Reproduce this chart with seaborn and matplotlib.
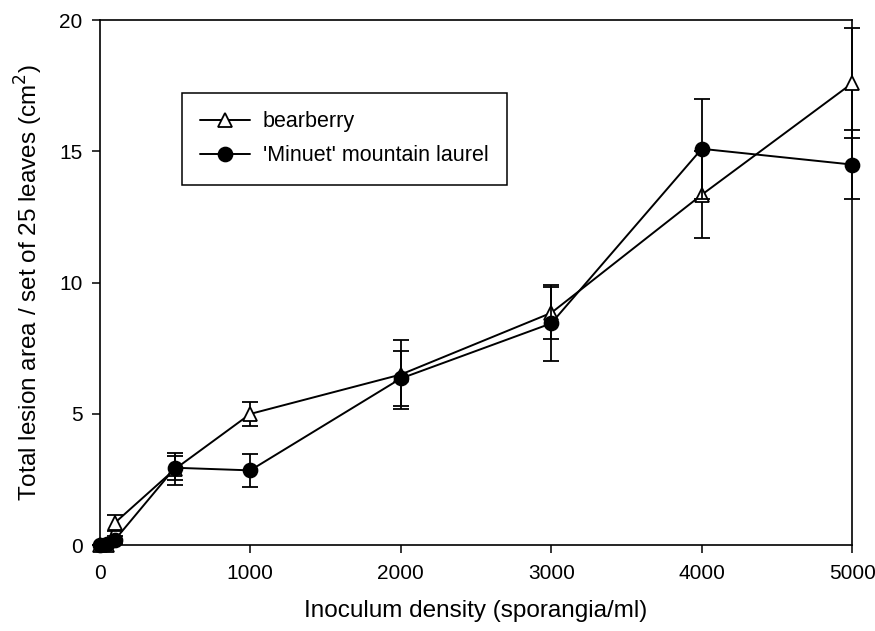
"""
Lesion area vs inoculum density, bearberry vs 'Minuet' mountain laurel
"""

import matplotlib
matplotlib.use("Agg")
import matplotlib.pyplot as plt
import seaborn as sns
import pandas as pd
import numpy as np

# Data
density = [0, 50, 100, 500, 1000, 2000, 3000, 4000, 5000]
bearberry = [0.0, 0.02, 0.85, 2.9, 5.0, 6.5, 8.85, 13.35, 17.6]
bearberry_err = [0.0, 0.0, 0.3, 0.6, 0.45, 1.3, 1.0, 1.65, 2.1]
laurel = [0.0, 0.05, 0.2, 2.95, 2.85, 6.35, 8.45, 15.1, 14.5]
laurel_err = [0.0, 0.05, 0.15, 0.45, 0.63, 1.05, 1.45, 1.9, 1.3]

series_names = ["bearberry", "'Minuet' mountain laurel"]

sns.set_style("ticks")
plt.rcParams['font.family'] = ['Liberation Sans', 'DejaVu Sans']
plt.rcParams['font.size'] = 15
plt.rcParams['text.color'] = 'black'
plt.rcParams['axes.labelcolor'] = 'black'

df = pd.DataFrame({
    'density': density * 2,
    'area': bearberry + laurel,
    'err': bearberry_err + laurel_err,
    'plant': [series_names[0]] * len(density) + [series_names[1]] * len(density),
})

fig = plt.figure(figsize=(8.75, 6.31), dpi=100)
ax = fig.add_axes([0.114, 0.136, 0.86, 0.832])

styles = {
    series_names[0]: dict(marker='^', mfc='white', ms=10),
    series_names[1]: dict(marker='o', mfc='black', ms=10),
}

for i, name in enumerate(series_names):
    sub = df[df['plant'] == name]
    ax.errorbar(sub['density'], sub['area'], yerr=sub['err'], fmt='none',
                ecolor='black', elinewidth=1.3, capsize=6, capthick=1.3,
                zorder=2 + i, clip_on=False)
    sns.lineplot(data=sub, x='density', y='area', ax=ax, color='black',
                 linewidth=1.4, marker=styles[name]['marker'],
                 markersize=styles[name]['ms'],
                 markerfacecolor=styles[name]['mfc'],
                 markeredgecolor='black', markeredgewidth=1.3,
                 label=name, zorder=3 + i, clip_on=False)

ax.set_xlim(0, 5000)
ax.set_ylim(0, 20)
ax.set_xticks([0, 1000, 2000, 3000, 4000, 5000])
ax.set_yticks([0, 5, 10, 15, 20])
ax.tick_params(direction='out', length=5.5, width=1.1, colors='black', labelsize=15)
ax.tick_params(axis='x', pad=8)
ax.tick_params(axis='y', pad=7)
for s in ax.spines.values():
    s.set_linewidth(1.2)
    s.set_color('black')

ax.set_xlabel('Inoculum density (sporangia/ml)', fontsize=17.5, labelpad=12, color='black')
ax.set_ylabel('Total lesion area / set of 25 leaves (cm$^2$)', fontsize=17.5, labelpad=10,
              color='black')

leg = ax.legend(loc='upper left', bbox_to_anchor=(0.109, 0.861), frameon=True,
                fancybox=False, framealpha=1, edgecolor='black', fontsize=15.5,
                borderpad=0.85, handlelength=2.3, handletextpad=0.6,
                labelspacing=0.6, borderaxespad=0)
leg.get_frame().set_linewidth(1.1)
for t in leg.get_texts():
    t.set_color('black')

plt.savefig('out.png', dpi=100)
plt.close()
